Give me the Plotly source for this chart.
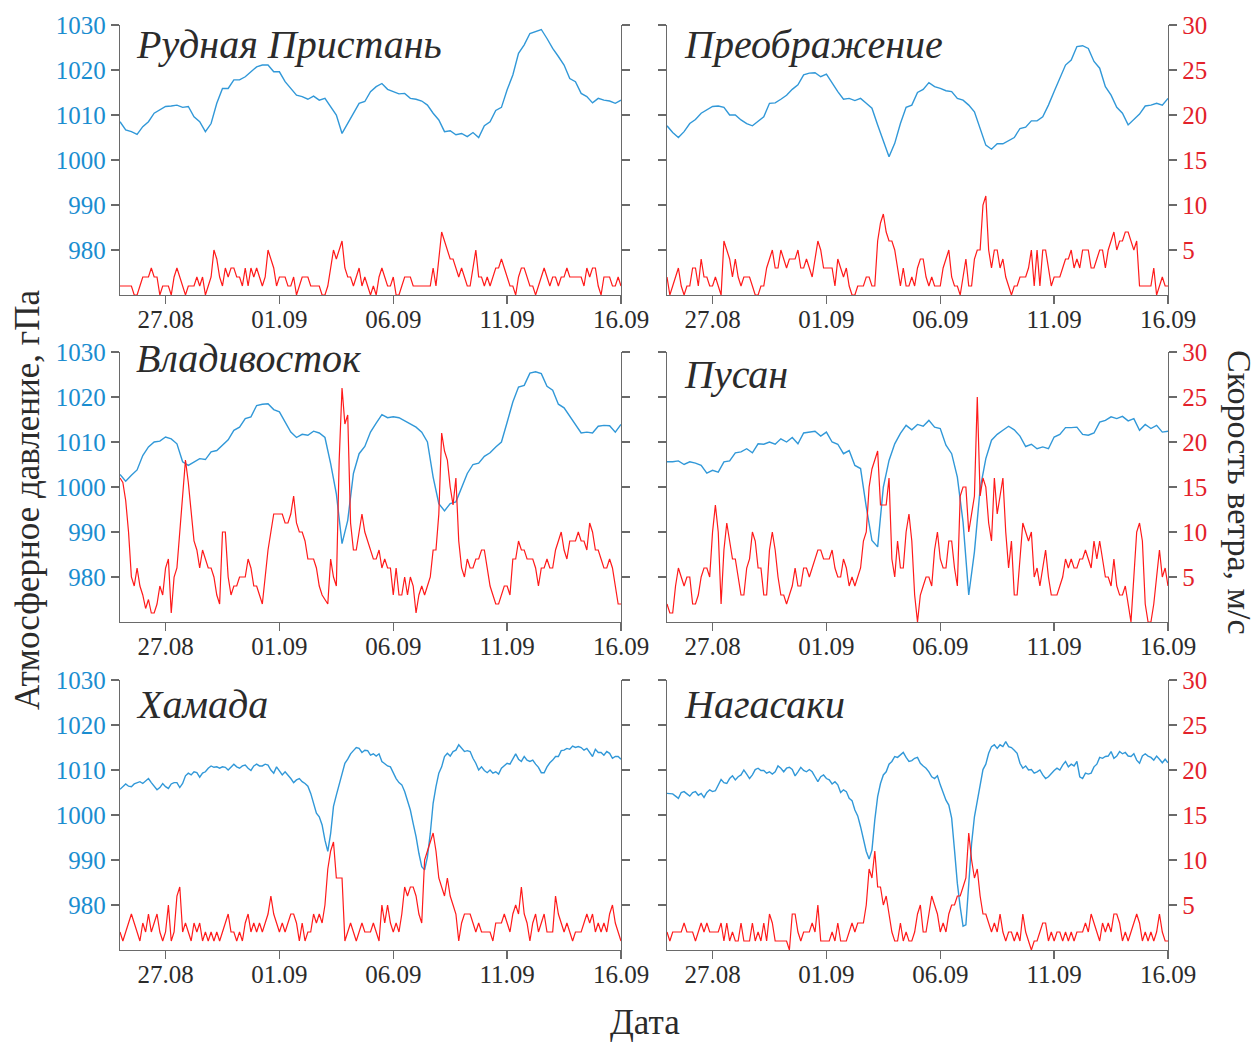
import pandas as pd
import plotly.graph_objects as go

# ---------------- data ----------------
START = "2020-08-25"
END = "2020-09-16"
date_ticks = ["2020-08-27", "2020-09-01", "2020-09-06", "2020-09-11", "2020-09-16"]
date_labels = ["27.08", "01.09", "06.09", "11.09", "16.09"]
p_ticks = [980, 990, 1000, 1010, 1020, 1030]
w_ticks = [5, 10, 15, 20, 25, 30]

stations = ["Рудная Пристань", "Преображение", "Владивосток", "Пусан", "Хамада", "Нагасаки"]

# pressure, hPa (6-hourly for first four stations, 3-hourly for the last two)
rudnaya_p = [1008.5, 1006.7, 1006.3, 1005.7, 1007.4, 1008.5, 1010.4, 1011.1, 1011.9, 1012.0,
             1012.2, 1011.7, 1011.9, 1009.6, 1008.5, 1006.3, 1008.1, 1012.6, 1015.9, 1015.9,
             1017.8, 1017.8, 1018.5, 1019.6, 1020.7, 1021.1, 1021.1, 1019.6, 1019.6, 1017.4,
             1015.9, 1014.4, 1014.1, 1013.5, 1014.2, 1013.3, 1013.7, 1011.9, 1010.0, 1005.9,
             1008.1, 1010.4, 1012.6, 1013.0, 1015.2, 1016.3, 1017.0, 1015.7, 1015.2, 1014.7,
             1014.8, 1013.7, 1013.5, 1013.1, 1012.2, 1010.4, 1008.9, 1006.3, 1006.5, 1005.6,
             1005.9, 1005.2, 1006.1, 1005.0, 1007.6, 1008.5, 1011.0, 1011.7, 1015.6, 1018.9,
             1023.7, 1025.6, 1028.1, 1028.5, 1029.0, 1027.0, 1024.8, 1023.0, 1021.1, 1018.1,
             1017.4, 1014.8, 1014.1, 1012.7, 1013.7, 1013.3, 1013.1, 1012.6, 1013.3]
preob_p = [1007.6, 1006.1, 1005.0, 1006.3, 1008.1, 1009.0, 1010.4, 1011.1, 1011.9, 1012.0,
           1011.7, 1010.0, 1010.0, 1008.9, 1008.1, 1007.6, 1008.5, 1009.6, 1012.6, 1012.7,
           1013.5, 1014.4, 1015.7, 1016.7, 1018.9, 1019.3, 1019.4, 1018.5, 1019.1, 1017.0,
           1015.2, 1013.5, 1013.7, 1013.2, 1013.7, 1012.6, 1011.5, 1007.8, 1004.1, 1000.7,
           1003.7, 1008.1, 1011.7, 1012.2, 1015.0, 1015.7, 1017.2, 1016.3, 1015.9, 1015.4,
           1015.2, 1013.7, 1013.3, 1012.2, 1010.7, 1007.0, 1003.3, 1002.4, 1003.6, 1003.6,
           1004.3, 1005.0, 1007.0, 1007.3, 1008.7, 1008.7, 1009.6, 1012.2, 1015.2, 1018.1,
           1021.1, 1022.2, 1025.2, 1025.4, 1024.8, 1021.9, 1020.4, 1016.3, 1014.4, 1011.7,
           1010.4, 1007.8, 1008.9, 1010.2, 1012.0, 1012.2, 1012.6, 1012.2, 1013.7]
vlad_p = [1002.8, 1001.3, 1002.6, 1003.8, 1007.0, 1008.9, 1010.0, 1010.2, 1011.1, 1010.7,
          1009.6, 1005.6, 1004.8, 1005.6, 1006.3, 1006.1, 1007.8, 1008.1, 1009.3, 1010.5,
          1012.6, 1013.3, 1015.2, 1015.6, 1018.1, 1018.4, 1018.5, 1017.2, 1016.7, 1014.4,
          1012.2, 1011.0, 1011.7, 1011.5, 1012.4, 1012.0, 1011.0, 1005.2, 998.5, 987.4,
          992.6, 1003.0, 1007.4, 1009.0, 1012.2, 1014.2, 1016.1, 1015.4, 1015.6, 1015.4,
          1014.7, 1014.1, 1013.3, 1012.2, 1010.0, 1002.2, 996.3, 994.7, 996.3, 996.7,
          1000.0, 1003.0, 1005.0, 1005.3, 1006.8, 1007.6, 1008.9, 1010.0, 1014.4, 1018.9,
          1022.2, 1022.6, 1025.3, 1025.6, 1025.2, 1022.4, 1021.5, 1018.4, 1017.6, 1015.7,
          1014.1, 1012.0, 1012.2, 1012.0, 1013.5, 1013.7, 1013.6, 1012.2, 1013.9]
busan_p = [1005.6, 1005.6, 1005.8, 1005.0, 1005.6, 1005.3, 1004.8, 1003.1, 1003.7, 1003.3,
           1005.6, 1005.8, 1007.6, 1007.8, 1008.5, 1007.6, 1009.6, 1009.5, 1010.0, 1009.5,
           1010.7, 1010.0, 1011.0, 1009.6, 1012.0, 1012.2, 1012.4, 1011.3, 1012.2, 1010.0,
           1009.5, 1007.4, 1008.1, 1004.8, 1004.1, 995.6, 988.1, 986.7, 1000.0, 1005.9,
           1009.6, 1011.9, 1013.7, 1012.7, 1013.9, 1013.5, 1014.8, 1013.3, 1013.0, 1009.3,
           1007.4, 1002.2, 992.2, 976.0, 985.6, 999.6, 1006.3, 1010.4, 1011.7, 1012.6,
           1013.5, 1012.7, 1011.3, 1009.0, 1009.5, 1008.5, 1008.9, 1008.5, 1011.1, 1011.7,
           1013.2, 1013.2, 1013.3, 1011.7, 1011.5, 1012.0, 1014.4, 1014.8, 1015.6, 1015.2,
           1015.7, 1014.7, 1015.2, 1012.6, 1013.9, 1013.0, 1013.7, 1012.2, 1012.4]
hamada_p = [1005.7, 1006.3, 1006.9, 1006.4, 1006.3, 1006.9, 1007.2, 1007.4, 1007.0, 1007.6,
            1008.1, 1007.2, 1006.3, 1005.6, 1006.1, 1007.0, 1006.3, 1005.9, 1006.9, 1007.2,
            1007.2, 1006.1, 1007.0, 1008.7, 1009.3, 1008.9, 1009.6, 1009.4, 1008.4, 1009.3,
            1009.6, 1010.4, 1010.9, 1010.6, 1010.7, 1010.4, 1010.7, 1010.6, 1010.0, 1010.7,
            1011.3, 1010.7, 1010.4, 1010.9, 1011.1, 1010.4, 1009.9, 1010.9, 1011.3, 1010.9,
            1010.9, 1011.3, 1011.1, 1010.0, 1009.3, 1010.7, 1009.9, 1008.9, 1009.6, 1008.9,
            1008.1, 1007.2, 1007.8, 1008.1, 1007.4, 1007.0, 1006.4, 1004.8, 1002.6, 1000.4,
            999.6, 997.8, 994.4, 991.9, 995.9, 1001.9, 1004.4, 1007.0, 1009.6, 1011.5,
            1012.4, 1013.6, 1014.3, 1015.0, 1014.8, 1013.9, 1014.4, 1014.3, 1013.3, 1013.6,
            1013.1, 1013.6, 1011.9, 1011.3, 1010.9, 1010.7, 1009.3, 1008.1, 1007.2, 1006.7,
            1005.2, 1003.0, 1001.1, 998.1, 995.2, 991.5, 988.5, 987.8, 990.7, 995.9,
            1002.6, 1006.3, 1009.3, 1010.7, 1013.0, 1013.7, 1013.1, 1014.1, 1014.4, 1015.6,
            1014.8, 1014.1, 1014.3, 1014.1, 1012.6, 1011.5, 1010.0, 1010.7, 1009.9, 1009.4,
            1010.0, 1009.3, 1009.6, 1009.1, 1010.4, 1010.9, 1011.5, 1011.3, 1012.4, 1013.6,
            1012.4, 1011.9, 1013.0, 1012.2, 1011.9, 1012.2, 1011.3, 1010.6, 1009.4, 1009.4,
            1010.7, 1011.6, 1012.2, 1013.0, 1013.0, 1014.3, 1014.4, 1014.8, 1014.6, 1015.3,
            1015.0, 1015.2, 1015.0, 1014.4, 1014.8, 1013.9, 1013.0, 1014.6, 1013.9, 1013.9,
            1013.3, 1014.1, 1013.7, 1012.6, 1013.0, 1013.0, 1012.4]
nagasaki_p = [1004.8, 1004.7, 1004.7, 1004.2, 1003.7, 1005.0, 1005.2, 1004.7, 1004.2, 1005.0,
              1005.2, 1004.4, 1004.8, 1003.9, 1005.0, 1005.6, 1005.2, 1005.4, 1006.7, 1007.9,
              1007.2, 1007.0, 1008.1, 1008.7, 1007.8, 1008.5, 1008.9, 1010.0, 1009.1, 1008.1,
              1008.9, 1010.1, 1010.4, 1009.9, 1009.9, 1009.3, 1009.6, 1009.1, 1009.6, 1010.9,
              1010.4, 1009.6, 1010.4, 1010.6, 1010.1, 1008.7, 1009.6, 1010.6, 1009.9, 1009.6,
              1010.1, 1009.6, 1008.5, 1007.4, 1008.5, 1008.9, 1008.1, 1007.8, 1006.9, 1007.4,
              1006.7, 1005.0, 1005.6, 1005.2, 1003.7, 1003.2, 1001.1, 999.8, 997.4, 994.4,
              991.9, 990.2, 992.2, 998.9, 1004.1, 1007.0, 1008.9, 1009.6, 1011.3, 1011.9,
              1013.0, 1012.8, 1013.3, 1013.9, 1012.8, 1011.9, 1012.1, 1012.6, 1012.8, 1011.5,
              1010.9, 1010.4, 1009.6, 1008.5, 1008.1, 1008.7, 1006.7, 1004.8, 1003.3, 1002.2,
              999.3, 992.2, 984.8, 979.6, 975.3, 975.6, 984.1, 993.7, 999.6, 1003.3,
              1007.0, 1010.1, 1011.3, 1013.7, 1015.2, 1015.6, 1014.8, 1015.6, 1015.2, 1016.3,
              1015.2, 1015.0, 1014.4, 1013.7, 1011.5, 1010.4, 1010.9, 1010.0, 1010.1, 1009.3,
              1009.6, 1010.0, 1008.9, 1008.1, 1008.5, 1009.3, 1009.9, 1010.4, 1010.0, 1011.1,
              1011.9, 1010.7, 1011.3, 1010.9, 1011.9, 1008.5, 1008.1, 1009.3, 1009.1, 1009.3,
              1010.7, 1011.3, 1012.8, 1012.6, 1013.0, 1013.1, 1014.1, 1012.6, 1013.1, 1014.1,
              1013.6, 1013.9, 1013.1, 1013.0, 1013.6, 1012.2, 1011.5, 1013.1, 1013.6, 1013.1,
              1012.8, 1012.2, 1013.1, 1012.4, 1011.6, 1012.4, 1011.6]

# wind speed, m/s (3-hourly)
rudnaya_w = [1, 1, 1, 1, 1, 0, 0, 1, 2, 2, 2, 3, 2, 2, 0, 1, 1, 1, 0, 2,
             3, 2, 1, 0, 1, 1, 1, 2, 1, 2, 0, 1, 2, 5, 4, 2, 1, 3, 2, 3,
             3, 2, 2, 1, 3, 1, 3, 2, 3, 2, 1, 2, 5, 4, 3, 1, 2, 2, 2, 1,
             1, 2, 0, 1, 2, 2, 2, 1, 1, 1, 1, 0, 0, 1, 3, 5, 4, 5, 6, 3,
             2, 2, 1, 2, 3, 1, 2, 1, 0, 1, 0, 2, 3, 2, 1, 1, 2, 0, 0, 1,
             2, 2, 2, 1, 1, 1, 1, 1, 1, 1, 3, 1, 4, 7, 6, 5, 4, 4, 3, 2,
             3, 2, 1, 1, 3, 5, 2, 2, 1, 2, 1, 2, 3, 3, 4, 3, 2, 1, 1, 0,
             2, 3, 3, 2, 1, 1, 0, 1, 2, 3, 2, 1, 2, 2, 1, 2, 2, 3, 2, 2,
             2, 2, 2, 1, 3, 2, 3, 3, 1, 0, 2, 2, 2, 1, 1, 2, 1]
preob_w = [2, 0, 1, 2, 3, 1, 0, 1, 1, 3, 3, 1, 4, 2, 2, 1, 1, 2, 1, 0,
           6, 5, 4, 2, 4, 2, 1, 2, 2, 2, 1, 0, 0, 1, 1, 3, 4, 5, 3, 3,
           5, 4, 3, 4, 4, 4, 5, 3, 3, 4, 3, 2, 4, 6, 5, 3, 3, 3, 3, 1,
           4, 3, 2, 3, 1, 0, 0, 1, 1, 1, 2, 2, 1, 1, 6, 8, 9, 7, 6, 6,
           5, 3, 1, 3, 1, 1, 2, 1, 3, 4, 4, 2, 1, 2, 1, 1, 1, 3, 4, 5,
           2, 1, 1, 0, 2, 4, 1, 1, 4, 5, 5, 10, 11, 5, 3, 5, 5, 3, 4, 2,
           1, 0, 1, 1, 2, 2, 2, 3, 5, 1, 5, 1, 5, 5, 3, 1, 2, 2, 2, 3,
           4, 4, 5, 3, 4, 3, 5, 5, 5, 3, 3, 4, 5, 5, 3, 5, 6, 7, 5, 6,
           6, 7, 7, 6, 5, 6, 1, 1, 1, 1, 1, 3, 0, 1, 2, 1, 1]
vlad_w = [16, 15.5, 13.5, 10, 5, 4, 6, 4, 3, 1.5, 2.5, 1, 1, 2, 4, 3, 6, 7, 1, 5,
          6, 10, 14, 18, 15.5, 12.5, 9, 8, 6, 8, 7, 6, 6, 5, 3, 2, 10, 10, 5, 3,
          4, 4, 5, 5, 5, 7, 6, 4, 4, 3, 2, 5, 8, 10, 12, 12, 12, 12, 11, 11,
          12, 14, 11, 10, 10, 9, 7, 7, 7, 6, 4, 3, 2.5, 2, 7, 5, 4, 18, 26, 22,
          23, 11, 8, 8, 10, 12, 10, 9, 8, 7, 7, 8, 6, 7, 6, 6, 3, 6, 3, 3,
          5, 3, 5, 4, 1, 3, 4, 3, 4, 5, 8, 8, 12, 21, 19, 18, 15, 13, 16, 9,
          6, 5, 7, 6, 6, 7, 7, 8, 8, 6, 4, 3, 2, 2, 3, 4, 4, 3, 7, 7,
          9, 8, 8, 7, 7, 7, 6, 4, 6, 6, 7, 6, 6, 8, 9, 10, 8, 7, 9, 9,
          9, 10, 9, 9, 8, 11, 10, 8, 8, 7, 6, 6, 7, 6, 4, 2, 2]
busan_w = [2, 1, 1, 4, 6, 5, 4, 5, 5, 2, 2, 3, 5, 6, 6, 5, 10, 13, 10, 2,
           8, 11, 9, 7, 7, 5, 3, 3, 6, 7, 10, 9, 6, 6, 3, 3, 8, 10, 8, 5,
           3, 3, 2, 3, 4, 6, 4, 4, 6, 6, 5, 6, 7, 8, 8, 7, 7, 7, 8, 6,
           5, 5, 7, 6, 4, 5, 4, 5, 6, 9, 10, 15, 17, 18, 19, 13, 13, 13, 16, 7,
           5, 9, 6, 6, 10, 12, 9, 3, 0, 3, 4, 5, 5, 4, 8, 10, 7, 6, 6, 9,
           9, 6, 4, 14, 15, 15, 10, 12, 14, 25, 14, 16, 15, 11, 9, 16, 12, 14, 16, 10,
           6, 9, 3, 3, 7, 11, 10, 9, 10, 5, 6, 4, 6, 8, 5, 3, 3, 3, 4, 5,
           7, 6, 7, 6, 6, 7, 7, 8, 7, 6, 9, 7, 9, 7, 5, 5, 4, 7, 4, 3,
           3, 4, 2, 0, 5, 10, 11, 9, 2, 0, 0, 2, 5, 8, 5, 6, 4]
hamada_w = [2, 1, 2, 3, 4, 3, 2, 1, 3, 2, 4, 2, 3, 4, 2, 1, 2, 5, 1, 2,
            6, 7, 2, 3, 2, 1, 3, 2, 3, 1, 2, 1, 2, 1, 2, 1, 2, 3, 4, 2,
            2, 1, 2, 1, 3, 4, 2, 3, 2, 3, 2, 3, 4, 6, 4, 3, 2, 3, 2, 3,
            4, 4, 3, 1, 3, 1, 2, 2, 4, 3, 4, 3, 5, 9, 11, 12, 8, 8, 8, 1,
            2, 3, 2, 1, 2, 3, 2, 2, 2, 3, 2, 1, 5, 3, 5, 3, 2, 3, 2, 4,
            7, 6, 7, 7, 6, 4, 3, 10, 11, 12, 13, 11, 8, 7, 6, 8, 6, 5, 4, 1,
            3, 4, 4, 4, 3, 2, 3, 2, 2, 2, 2, 1, 3, 3, 3, 4, 3, 2, 4, 5,
            4, 7, 4, 3, 1, 3, 4, 2, 3, 4, 2, 2, 2, 6, 4, 3, 2, 3, 2, 1,
            2, 2, 2, 3, 4, 3, 4, 2, 3, 2, 3, 2, 4, 5, 3, 2, 1]
nagasaki_w = [2, 1, 2, 2, 2, 2, 3, 2, 2, 2, 1, 2, 3, 2, 3, 2, 2, 2, 2, 3,
              1, 3, 1, 2, 1, 1, 3, 1, 1, 1, 3, 1, 2, 1, 3, 1, 4, 3, 1, 1,
              1, 1, 1, 0, 4, 4, 2, 1, 2, 2, 2, 3, 2, 5, 1, 1, 1, 1, 2, 1,
              3, 1, 1, 1, 2, 3, 2, 3, 3, 3, 5, 9, 8, 11, 7, 7, 5, 6, 4, 2,
              1, 1, 3, 1, 2, 1, 1, 2, 4, 5, 2, 2, 4, 6, 5, 4, 2, 3, 2, 4,
              5, 5, 6, 6, 7, 8, 13, 10, 8, 9, 6, 4, 4, 3, 2, 3, 2, 4, 2, 1,
              2, 2, 1, 2, 1, 4, 2, 1, 0, 1, 1, 2, 3, 3, 1, 2, 1, 2, 2, 1,
              2, 1, 2, 1, 2, 2, 2, 3, 2, 4, 3, 2, 1, 3, 2, 3, 2, 4, 4, 3,
              1, 2, 1, 2, 3, 4, 3, 1, 2, 1, 2, 1, 2, 4, 2, 1, 1]

pressures = [rudnaya_p, preob_p, vlad_p, busan_p, hamada_p, nagasaki_p]
winds = [rudnaya_w, preob_w, vlad_w, busan_w, hamada_w, nagasaki_w]
p_steps = ["6h", "6h", "6h", "6h", "3h", "3h"]
w_step = "3h"

# ---------------- styling ----------------
W, H = 1260, 1043
FONT = "Liberation Serif"
BLUE_LINE = "#3198d8"
BLUE_TXT = "#1a8dd0"
RED_LINE = "#ff1a1a"
RED_TXT = "#e3222a"
AXIS = "#6a6a6a"
TXT = "#2b2b2b"

col_px = [(120, 621), (667, 1168)]
row_px = [(25, 295), (352, 622), (680, 950)]
title_pos = [(134, 45), (682, 45), (134, 358), (682, 374), (134, 704), (682, 704)]


def fx(px):
    return px / W


def fy(py):
    return 1 - py / H


fig = go.Figure()
layout = {}
annotations = []

for k in range(6):
    r, c = divmod(k, 2)
    xn = k + 1
    yl = 2 * k + 1
    yr = 2 * k + 2
    xs = "" if xn == 1 else str(xn)
    yls = "" if yl == 1 else str(yl)
    yrs = str(yr)

    px = pd.date_range(START, periods=len(pressures[k]), freq=p_steps[k])
    wx = pd.date_range(START, periods=len(winds[k]), freq=w_step)

    fig.add_trace(go.Scatter(x=px, y=pressures[k], mode="lines",
                             line=dict(color=BLUE_LINE, width=1.4),
                             xaxis="x" + xs, yaxis="y" + yls, showlegend=False,
                             hoverinfo="skip"))
    fig.add_trace(go.Scatter(x=wx, y=winds[k], mode="lines",
                             line=dict(color=RED_LINE, width=1.2),
                             xaxis="x" + xs, yaxis="y" + yrs, showlegend=False,
                             hoverinfo="skip"))

    x0, x1 = col_px[c]
    y0, y1 = row_px[r]
    common = dict(showline=True, linecolor=AXIS, linewidth=1.3, ticks="outside",
                  ticklen=8, tickwidth=1.3, tickcolor=AXIS, showgrid=False,
                  zeroline=False, fixedrange=True, automargin=False)

    layout["xaxis" + xs] = dict(
        domain=[fx(x0), fx(x1)], anchor="y" + yls, type="date",
        range=[START, END], tickmode="array", tickvals=date_ticks,
        ticktext=date_labels, ticklabelstandoff=-6,
        tickfont=dict(family=FONT, size=25, color=TXT), **common)
    layout["yaxis" + yls] = dict(
        domain=[fy(y1), fy(y0)], anchor="x" + xs, side="left",
        range=[970, 1030], tickmode="array", tickvals=p_ticks,
        showticklabels=(c == 0),
        tickfont=dict(family=FONT, size=25, color=BLUE_TXT), **common)
    layout["yaxis" + yrs] = dict(
        overlaying="y" + yls, anchor="x" + xs, side="right",
        range=[0, 30], tickmode="array", tickvals=w_ticks,
        showticklabels=(c == 1),
        tickfont=dict(family=FONT, size=25, color=RED_TXT), **common)

    tx, ty = title_pos[k]
    annotations.append(dict(text="<i>" + stations[k] + "</i>", x=fx(tx), y=fy(ty),
                            xref="paper", yref="paper", xanchor="left",
                            yanchor="middle", showarrow=False,
                            font=dict(family=FONT, size=40, color=TXT)))

annotations.append(dict(text="Атмосферное давление, гПа", x=fx(27), y=fy(500),
                        xref="paper", yref="paper", xanchor="center",
                        yanchor="middle", showarrow=False, textangle=-90,
                        font=dict(family=FONT, size=35, color=TXT)))
annotations.append(dict(text="Скорость ветра, м/с", x=fx(1240), y=fy(492),
                        xref="paper", yref="paper", xanchor="center",
                        yanchor="middle", showarrow=False, textangle=90,
                        font=dict(family=FONT, size=34, color=TXT)))
annotations.append(dict(text="Дата", x=fx(645), y=fy(1022),
                        xref="paper", yref="paper", xanchor="center",
                        yanchor="middle", showarrow=False,
                        font=dict(family=FONT, size=35, color=TXT)))

fig.update_layout(**layout)
fig.update_layout(width=W, height=H, margin=dict(l=0, r=0, t=0, b=0, autoexpand=False),
                  paper_bgcolor="white", plot_bgcolor="white",
                  annotations=annotations, showlegend=False, hovermode=False)

fig.write_html("out.html",
               config={"displayModeBar": False, "staticPlot": True},
               post_script="document.body.style.margin='0';"
                           "document.body.style.padding='0';"
                           "document.body.style.overflow='hidden';")
